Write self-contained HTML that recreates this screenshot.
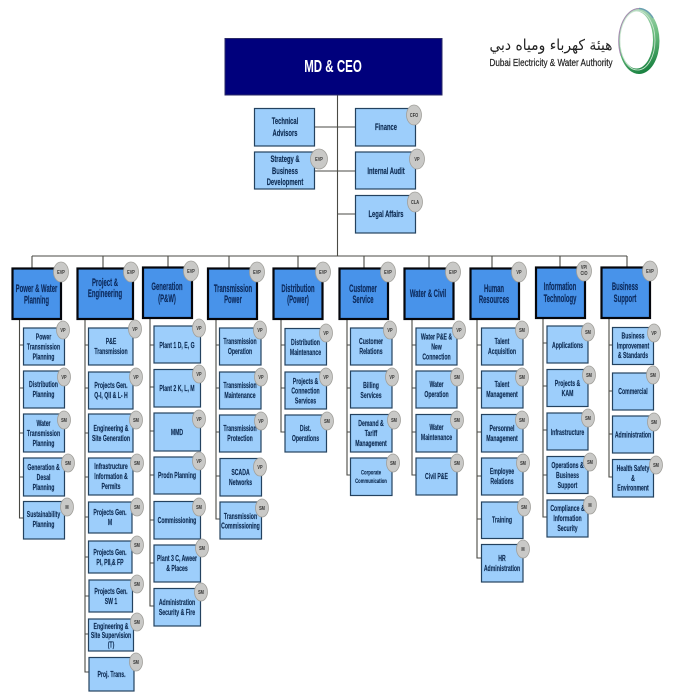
<!DOCTYPE html>
<html><head><meta charset="utf-8"><style>
html,body{margin:0;padding:0;background:#fff;width:679px;height:696px;overflow:hidden}
svg{display:block;filter:blur(.3px)}
text{font-family:"Liberation Sans",sans-serif;font-weight:bold;fill:#0d2b52;text-anchor:middle}
.s{font-size:8.6px;stroke:#0d2b52;stroke-width:.15}
.x{font-size:6.8px;stroke:#0d2b52;stroke-width:.12}
.h{font-size:10.8px;fill:#0c2a5c;stroke:#0c2a5c;stroke-width:.15}
.t{font-size:9.4px;stroke:#0d2b52;stroke-width:.15}
.b{font-size:5.2px;fill:#333}
.l{stroke:#4a4a44;stroke-width:1.1;fill:none}
.bx rect{fill:#9dcefb;stroke:#24425f;stroke-width:1.2}
.hd rect{fill:#4893ea;stroke:#04060c;stroke-width:2.2}
ellipse.e{fill:#c9c9c7;stroke:#a09f9a;stroke-width:.8}
</style></head><body>
<svg xmlns="http://www.w3.org/2000/svg" width="679" height="696" viewBox="0 0 679 696">
<defs><linearGradient id="g" x1="0.3" y1="0" x2="0.6" y2="1"><stop offset="0" stop-color="#b9dcc4"/><stop offset=".5" stop-color="#6dbd80"/><stop offset="1" stop-color="#17803f"/></linearGradient></defs>
<rect width="679" height="696" fill="#fff"/>
<!-- connectors -->
<path class="l" d="M337.5 95V256M314 127H355M314 171H355M337.5 214H355M32 256H627
M32 256V268M103 256V268M168 256V267M229 256V268M298 256V268M364 256V268M429 256V268M492 256V268M560 256V267M627 256V267
M19.500 319V518H23M19.500 345H23M19.500 388H23M19.500 433H23M19.500 477H23
M85 319V672H89M85 345H89M85 388H89M85 433H89M85 477H89M85 517H89M85 557H89M85 596H89M85 634H89
M150 318V606H154M150 345H154M150 387H154M150 431H154M150 475H154M150 520H154M150 563H154
M216 319V519H220M216 345H219M216 388H219M216 432H219M216 476H220
M281 319V432H285M281 345H285M281 388H285
M347 319V475H350M347 345H350M347 388H350M347 432H350
M412 319V475H416M412 345H416M412 388H416M412 432H416
M477 319V558H481M477 345H481M477 388H481M477 432H481M477 476H481M477 519H481
M543 318V517H547M543 343H547M543 386H547M543 430H547M543 475H547
M609 318V477H612M609 345H612M609 391H612M609 434H612"/>
<!-- top -->
<rect x="225" y="38.500" width="217" height="56.500" fill="#00007c" stroke="#2a2a66"/>
<text transform="translate(333 72) scale(.64 1)" style="font-size:18px;fill:#fff">MD &amp; CEO</text>
<g class="bx">
<rect x="254.500" y="108.500" width="60" height="37.500"/><rect x="355.500" y="108.500" width="60" height="37.500"/>
<rect x="254.500" y="152" width="60" height="37"/><rect x="355.500" y="152" width="60" height="37"/>
<rect x="355.500" y="195.500" width="60" height="37.500"/>
</g>
<text class="t" transform="translate(285 124) scale(.62 1)">Technical</text>
<text class="t" transform="translate(285 136) scale(.62 1)">Advisors</text>
<text class="t" transform="translate(386 130) scale(.62 1)">Finance</text>
<text class="t" transform="translate(285 162) scale(.62 1)">Strategy &amp;</text>
<text class="t" transform="translate(285 174) scale(.62 1)">Business</text>
<text class="t" transform="translate(285 185) scale(.62 1)">Development</text>
<text class="t" transform="translate(386 174) scale(.62 1)">Internal Audit</text>
<text class="t" transform="translate(386 217) scale(.62 1)">Legal Affairs</text>
<!-- logo -->
<text x="551" y="50" textLength="123" lengthAdjust="spacingAndGlyphs" style="font-family:'DejaVu Sans',sans-serif;font-size:15px;font-weight:normal;fill:#222">هيئة كهرباء ومياه دبي</text>
<text x="551" y="66" textLength="123" lengthAdjust="spacingAndGlyphs" style="font-size:10px;font-weight:normal;fill:#222;stroke:#222;stroke-width:.2">Dubai Electricity &amp; Water Authority</text>
<path fill="url(#g)" fill-rule="evenodd" d="M618.500 41a20.500 33 0 1 0 41 0a20.500 33 0 1 0 -41 0ZM620 40a16.500 28.500 0 1 0 33 0a16.500 28.500 0 1 0 -33 0Z"/>
<path d="M639 8.500A20.500 32.500 0 0 0 621 56" fill="none" stroke="#a58ab0" stroke-width="1"/>
<path d="M639 8.500A19 26 0 0 1 653 18" fill="none" stroke="#6a9fb0" stroke-width="1.500"/>
<ellipse cx="637.500" cy="40.500" rx="17.500" ry="29.500" fill="none" stroke="#cfe8d4" stroke-width=".8"/>
<!-- headers -->
<g class="hd">
<rect x="12.500" y="268.500" width="48.500" height="50.500"/>
<rect x="77.500" y="268.500" width="55.500" height="50.500"/>
<rect x="143" y="267.500" width="49" height="50.500"/>
<rect x="208" y="268.500" width="49" height="50.500"/>
<rect x="273.500" y="268.500" width="49" height="50.500"/>
<rect x="339.500" y="268.500" width="48.500" height="50.500"/>
<rect x="404.500" y="268.500" width="49" height="50.500"/>
<rect x="470.500" y="268.500" width="48.500" height="50.500"/>
<rect x="536" y="267.500" width="49" height="50.500"/>
<rect x="601.500" y="267.500" width="48.500" height="50.500"/>
</g>
<g class="h">
<text class="h" transform="translate(36.500 292) scale(.55 1)">Power &amp; Water</text>
<text class="h" transform="translate(36.500 303.500) scale(.55 1)">Planning</text>
<text class="h" transform="translate(105 286) scale(.55 1)">Project &amp;</text>
<text class="h" transform="translate(105 297) scale(.55 1)">Engineering</text>
<text class="h" transform="translate(167 290) scale(.55 1)">Generation</text>
<text class="h" transform="translate(167 302) scale(.55 1)">(P&amp;W)</text>
<text class="h" transform="translate(233 292) scale(.55 1)">Transmission</text>
<text class="h" transform="translate(233 303) scale(.55 1)">Power</text>
<text class="h" transform="translate(298 292) scale(.55 1)">Distribution</text>
<text class="h" transform="translate(298 303) scale(.55 1)">(Power)</text>
<text class="h" transform="translate(363 292) scale(.55 1)">Customer</text>
<text class="h" transform="translate(363 303) scale(.55 1)">Service</text>
<text class="h" transform="translate(428 297) scale(.55 1)">Water &amp; Civil</text>
<text class="h" transform="translate(494 292) scale(.55 1)">Human</text>
<text class="h" transform="translate(494 303) scale(.55 1)">Resources</text>
<text class="h" transform="translate(560 290) scale(.55 1)">Information</text>
<text class="h" transform="translate(560 302) scale(.55 1)">Technology</text>
<text class="h" transform="translate(625 290) scale(.55 1)">Business</text>
<text class="h" transform="translate(625 302) scale(.55 1)">Support</text>
</g>
<!-- sub boxes -->
<g class="bx">
<rect x="23.500" y="328" width="41" height="37"/><rect x="23.500" y="371" width="41" height="37"/><rect x="23.500" y="414" width="41" height="38"/><rect x="23.500" y="458" width="41" height="38"/><rect x="23.500" y="501.500" width="41" height="37.500"/>
<rect x="88.500" y="328" width="44.500" height="37"/><rect x="88.500" y="372" width="44.500" height="37"/><rect x="88.500" y="414" width="44.500" height="38"/><rect x="88.500" y="458" width="44.500" height="37"/><rect x="88.500" y="502" width="43.500" height="31"/><rect x="88.500" y="541" width="43.500" height="32"/><rect x="89" y="580" width="43.500" height="32"/><rect x="88.500" y="619" width="45" height="32"/><rect x="89" y="657.500" width="45" height="33.500"/>
<rect x="154" y="326" width="46.500" height="37"/><rect x="154" y="369.500" width="46.500" height="37.500"/><rect x="154" y="413" width="46.500" height="38"/><rect x="154" y="457" width="46.500" height="37"/><rect x="154" y="501.500" width="46.500" height="37.500"/><rect x="154" y="545" width="46.500" height="37"/><rect x="154" y="588.500" width="46.500" height="37.500"/>
<rect x="219.500" y="328" width="41.500" height="37"/><rect x="219.500" y="372" width="41.500" height="37"/><rect x="219.500" y="415" width="41.500" height="37"/><rect x="220" y="458.500" width="41.500" height="37.500"/><rect x="220" y="502" width="41.500" height="37"/>
<rect x="285" y="328.500" width="41.500" height="36.500"/><rect x="285" y="372" width="41.500" height="37"/><rect x="285" y="415" width="41.500" height="37"/>
<rect x="350.500" y="328" width="41.500" height="37"/><rect x="350.500" y="371" width="41.500" height="37"/><rect x="350.500" y="414.500" width="41.500" height="37.500"/><rect x="350.500" y="458" width="41.500" height="37.500"/>
<rect x="416" y="328" width="41" height="37"/><rect x="416" y="371" width="41" height="37"/><rect x="416" y="414.500" width="41" height="37.500"/><rect x="416" y="458" width="41" height="37"/>
<rect x="481.500" y="328" width="41.500" height="37"/><rect x="481.500" y="371" width="41.500" height="37"/><rect x="481.500" y="414.500" width="41.500" height="37.500"/><rect x="481.500" y="458" width="41.500" height="37"/><rect x="481.500" y="502" width="41.500" height="36.500"/><rect x="481.500" y="544.500" width="41.500" height="37.500"/>
<rect x="547" y="326" width="41" height="37"/><rect x="547" y="369.500" width="41" height="37"/><rect x="547" y="413" width="41" height="37"/><rect x="547" y="456.500" width="41" height="37"/><rect x="547" y="500" width="41" height="37"/>
<rect x="612.500" y="327.500" width="41" height="37"/><rect x="612.500" y="373" width="41" height="37"/><rect x="612.500" y="416" width="41" height="37"/><rect x="612.500" y="459.500" width="41" height="37.500"/>
</g>
<!-- sub labels -->
<text class="s" transform="translate(43.500 339.500) scale(.6 1)">Power</text><text class="s" transform="translate(43.500 349.500) scale(.6 1)">Transmission</text><text class="s" transform="translate(43.500 359.500) scale(.6 1)">Planning</text>
<text class="s" transform="translate(43.500 387) scale(.6 1)">Distribution</text><text class="s" transform="translate(43.500 397) scale(.6 1)">Planning</text>
<text class="s" transform="translate(43.500 426) scale(.6 1)">Water</text><text class="s" transform="translate(43.500 436) scale(.6 1)">Transmission</text><text class="s" transform="translate(43.500 446) scale(.6 1)">Planning</text>
<text class="s" transform="translate(43.500 470) scale(.6 1)">Generation &amp;</text><text class="s" transform="translate(43.500 480) scale(.6 1)">Desal</text><text class="s" transform="translate(43.500 490) scale(.6 1)">Planning</text>
<text class="s" transform="translate(43.500 517) scale(.6 1)">Sustainability</text><text class="s" transform="translate(43.500 527) scale(.6 1)">Planning</text>

<text class="s" transform="translate(111 344) scale(.6 1)">P&amp;E</text><text class="s" transform="translate(111 354) scale(.6 1)">Transmission</text>
<text class="s" transform="translate(111 388) scale(.6 1)">Projects Gen.</text><text class="s" transform="translate(111 398) scale(.6 1)">Q-I, QII &amp; L- H</text>
<text class="s" transform="translate(111 431) scale(.6 1)">Engineering &amp;</text><text class="s" transform="translate(111 441) scale(.6 1)">Site Generation</text>
<text class="s" transform="translate(111 469) scale(.6 1)">Infrastructure</text><text class="s" transform="translate(111 479) scale(.6 1)">Information &amp;</text><text class="s" transform="translate(111 489) scale(.6 1)">Permits</text>
<text class="s" transform="translate(110 515) scale(.6 1)">Projects Gen.</text><text class="s" transform="translate(110 525) scale(.6 1)">M</text>
<text class="s" transform="translate(110 555) scale(.6 1)">Projects Gen.</text><text class="s" transform="translate(110 565) scale(.6 1)">PI, PII,&amp; FP</text>
<text class="s" transform="translate(111 594) scale(.6 1)">Projects Gen.</text><text class="s" transform="translate(111 604) scale(.6 1)">SW 1</text>
<text class="s" transform="translate(111 629) scale(.6 1)">Engineering &amp;</text><text class="s" transform="translate(111 638) scale(.6 1)">Site Supervision</text><text class="s" transform="translate(111 647.500) scale(.6 1)">(T)</text>
<text class="s" transform="translate(111.500 677) scale(.6 1)">Proj. Trans.</text>

<text class="s" transform="translate(177 348) scale(.6 1)">Plant 1 D, E, G</text>
<text class="s" transform="translate(177 391) scale(.6 1)">Plant 2 K, L, M</text>
<text class="s" transform="translate(177 435) scale(.6 1)">MMD</text>
<text class="s" transform="translate(177 478) scale(.6 1)">Prodn Planning</text>
<text class="s" transform="translate(177 523) scale(.6 1)">Commissioning</text>
<text class="s" transform="translate(177 561) scale(.6 1)">Plant 3 C, Aweer</text><text class="s" transform="translate(177 571) scale(.6 1)">&amp; Places</text>
<text class="s" transform="translate(177 605) scale(.6 1)">Administration</text><text class="s" transform="translate(177 615) scale(.6 1)">Security &amp; Fire</text>

<text class="s" transform="translate(240 344) scale(.6 1)">Transmission</text><text class="s" transform="translate(240 354) scale(.6 1)">Operation</text>
<text class="s" transform="translate(240 388) scale(.6 1)">Transmission</text><text class="s" transform="translate(240 398) scale(.6 1)">Maintenance</text>
<text class="s" transform="translate(240 431) scale(.6 1)">Transmission</text><text class="s" transform="translate(240 441) scale(.6 1)">Protection</text>
<text class="s" transform="translate(240.500 475) scale(.6 1)">SCADA</text><text class="s" transform="translate(240.500 485) scale(.6 1)">Networks</text>
<text class="s" transform="translate(240.500 519) scale(.6 1)">Transmission</text><text class="s" transform="translate(240.500 528.500) scale(.6 1)">Commissioning</text>

<text class="s" transform="translate(305.500 345) scale(.6 1)">Distribution</text><text class="s" transform="translate(305.500 355) scale(.6 1)">Maintenance</text>
<text class="s" transform="translate(305.500 384) scale(.6 1)">Projects &amp;</text><text class="s" transform="translate(305.500 393.500) scale(.6 1)">Connection</text><text class="s" transform="translate(305.500 403.500) scale(.6 1)">Services</text>
<text class="s" transform="translate(305.500 431) scale(.6 1)">Dist.</text><text class="s" transform="translate(305.500 441) scale(.6 1)">Operations</text>

<text class="s" transform="translate(371 344) scale(.6 1)">Customer</text><text class="s" transform="translate(371 354) scale(.6 1)">Relations</text>
<text class="s" transform="translate(371 388) scale(.6 1)">Billing</text><text class="s" transform="translate(371 398) scale(.6 1)">Services</text>
<text class="s" transform="translate(371 426) scale(.6 1)">Demand &amp;</text><text class="s" transform="translate(371 436) scale(.6 1)">Tariff</text><text class="s" transform="translate(371 446) scale(.6 1)">Management</text>
<text class="x" transform="translate(371 474.500) scale(.62 1)">Corporate</text><text class="x" transform="translate(371 483) scale(.62 1)">Communication</text>

<text class="s" transform="translate(436.500 339.500) scale(.6 1)">Water P&amp;E &amp;</text><text class="s" transform="translate(436.500 349.500) scale(.6 1)">New</text><text class="s" transform="translate(436.500 359.500) scale(.6 1)">Connection</text>
<text class="s" transform="translate(436.500 387) scale(.6 1)">Water</text><text class="s" transform="translate(436.500 397) scale(.6 1)">Operation</text>
<text class="s" transform="translate(436.500 430) scale(.6 1)">Water</text><text class="s" transform="translate(436.500 440) scale(.6 1)">Maintenance</text>
<text class="s" transform="translate(436.500 479) scale(.6 1)">Civil P&amp;E</text>

<text class="s" transform="translate(502 344) scale(.6 1)">Talent</text><text class="s" transform="translate(502 354) scale(.6 1)">Acquisition</text>
<text class="s" transform="translate(502 387) scale(.6 1)">Talent</text><text class="s" transform="translate(502 397) scale(.6 1)">Management</text>
<text class="s" transform="translate(502 431) scale(.6 1)">Personnel</text><text class="s" transform="translate(502 441) scale(.6 1)">Management</text>
<text class="s" transform="translate(502 474) scale(.6 1)">Employee</text><text class="s" transform="translate(502 484) scale(.6 1)">Relations</text>
<text class="s" transform="translate(502 522.500) scale(.6 1)">Training</text>
<text class="s" transform="translate(502 561) scale(.6 1)">HR</text><text class="s" transform="translate(502 571) scale(.6 1)">Administration</text>

<text class="s" transform="translate(567.500 348) scale(.6 1)">Applications</text>
<text class="s" transform="translate(567.500 386) scale(.6 1)">Projects &amp;</text><text class="s" transform="translate(567.500 396) scale(.6 1)">KAM</text>
<text class="s" transform="translate(567.500 435) scale(.6 1)">Infrastructure</text>
<text class="s" transform="translate(567.500 468) scale(.6 1)">Operations &amp;</text><text class="s" transform="translate(567.500 478) scale(.6 1)">Business</text><text class="s" transform="translate(567.500 488) scale(.6 1)">Support</text>
<text class="s" transform="translate(567.500 511) scale(.6 1)">Compliance &amp;</text><text class="s" transform="translate(567.500 521) scale(.6 1)">Information</text><text class="s" transform="translate(567.500 531) scale(.6 1)">Security</text>

<text class="s" transform="translate(633 338.500) scale(.6 1)">Business</text><text class="s" transform="translate(633 348.500) scale(.6 1)">Improvement</text><text class="s" transform="translate(633 358) scale(.6 1)">&amp; Standards</text>
<text class="s" transform="translate(633 394) scale(.6 1)">Commercial</text>
<text class="s" transform="translate(633 437.500) scale(.6 1)">Administration</text>
<text class="s" transform="translate(633 471) scale(.6 1)">Health Safety</text><text class="s" transform="translate(633 481) scale(.6 1)">&amp;</text><text class="s" transform="translate(633 490.500) scale(.6 1)">Environment</text>

<!-- badges -->
<ellipse class="e" cx="414" cy="115" rx="7.500" ry="10"/><text class="b" transform="translate(414 117) scale(.75 1)">CFO</text>
<ellipse class="e" cx="319" cy="159" rx="8.500" ry="10"/><text class="b" transform="translate(319 161) scale(.75 1)">EVP</text>
<ellipse class="e" cx="417" cy="159" rx="7.500" ry="10"/><text class="b" transform="translate(417 161) scale(.75 1)">VP</text>
<ellipse class="e" cx="415" cy="202" rx="7.500" ry="10"/><text class="b" transform="translate(415 204) scale(.75 1)">CLA</text>

<ellipse class="e" cx="61" cy="272" rx="7.500" ry="10"/><text class="b" transform="translate(61 274) scale(.75 1)">EVP</text>
<ellipse class="e" cx="131" cy="272" rx="7.500" ry="10"/><text class="b" transform="translate(131 274) scale(.75 1)">EVP</text>
<ellipse class="e" cx="191" cy="271" rx="7.500" ry="10"/><text class="b" transform="translate(191 273) scale(.75 1)">EVP</text>
<ellipse class="e" cx="257" cy="272" rx="7.500" ry="10"/><text class="b" transform="translate(257 274) scale(.75 1)">EVP</text>
<ellipse class="e" cx="323" cy="272" rx="7.500" ry="10"/><text class="b" transform="translate(323 274) scale(.75 1)">EVP</text>
<ellipse class="e" cx="388" cy="272" rx="7.500" ry="10"/><text class="b" transform="translate(388 274) scale(.75 1)">EVP</text>
<ellipse class="e" cx="453" cy="272" rx="7.500" ry="10"/><text class="b" transform="translate(453 274) scale(.75 1)">EVP</text>
<ellipse class="e" cx="519" cy="272" rx="7.500" ry="10"/><text class="b" transform="translate(519 274) scale(.75 1)">VP</text>
<ellipse class="e" cx="584" cy="271" rx="7.500" ry="10"/><text class="b" transform="translate(584 269) scale(.75 1)">VP/</text><text class="b" transform="translate(584 275) scale(.75 1)">CIO</text>
<ellipse class="e" cx="650" cy="271" rx="7.500" ry="10"/><text class="b" transform="translate(650 273) scale(.75 1)">EVP</text>

<ellipse class="e" cx="63" cy="330" rx="6.500" ry="9"/><text class="b" transform="translate(63 332) scale(.75 1)">VP</text>
<ellipse class="e" cx="64" cy="377" rx="6.500" ry="9"/><text class="b" transform="translate(64 379) scale(.75 1)">VP</text>
<ellipse class="e" cx="64" cy="420" rx="6.500" ry="9"/><text class="b" transform="translate(64 422) scale(.75 1)">SM</text>
<ellipse class="e" cx="68" cy="463" rx="6.500" ry="9"/><text class="b" transform="translate(68 465) scale(.75 1)">SM</text>
<ellipse class="e" cx="67" cy="507" rx="6.500" ry="9"/><text class="b" transform="translate(67 509) scale(.75 1)">M</text>

<ellipse class="e" cx="135" cy="329" rx="6.500" ry="9"/><text class="b" transform="translate(135 331) scale(.75 1)">VP</text>
<ellipse class="e" cx="136" cy="377" rx="6.500" ry="9"/><text class="b" transform="translate(136 379) scale(.75 1)">VP</text>
<ellipse class="e" cx="136" cy="420" rx="6.500" ry="9"/><text class="b" transform="translate(136 422) scale(.75 1)">SM</text>
<ellipse class="e" cx="137" cy="463" rx="6.500" ry="9"/><text class="b" transform="translate(137 465) scale(.75 1)">SM</text>
<ellipse class="e" cx="137" cy="507" rx="6.500" ry="9"/><text class="b" transform="translate(137 509) scale(.75 1)">SM</text>
<ellipse class="e" cx="137" cy="545" rx="6.500" ry="9"/><text class="b" transform="translate(137 547) scale(.75 1)">SM</text>
<ellipse class="e" cx="137" cy="584" rx="6.500" ry="9"/><text class="b" transform="translate(137 586) scale(.75 1)">SM</text>
<ellipse class="e" cx="137" cy="622" rx="6.500" ry="9"/><text class="b" transform="translate(137 624) scale(.75 1)">SM</text>
<ellipse class="e" cx="136" cy="662" rx="6.500" ry="9"/><text class="b" transform="translate(136 664) scale(.75 1)">SM</text>

<ellipse class="e" cx="199" cy="328" rx="6.500" ry="9"/><text class="b" transform="translate(199 330) scale(.75 1)">VP</text>
<ellipse class="e" cx="199" cy="374" rx="6.500" ry="9"/><text class="b" transform="translate(199 376) scale(.75 1)">VP</text>
<ellipse class="e" cx="199" cy="419" rx="6.500" ry="9"/><text class="b" transform="translate(199 421) scale(.75 1)">VP</text>
<ellipse class="e" cx="199" cy="461" rx="6.500" ry="9"/><text class="b" transform="translate(199 463) scale(.75 1)">VP</text>
<ellipse class="e" cx="199" cy="507" rx="6.500" ry="9"/><text class="b" transform="translate(199 509) scale(.75 1)">SM</text>
<ellipse class="e" cx="202" cy="548" rx="6.500" ry="9"/><text class="b" transform="translate(202 550) scale(.75 1)">SM</text>
<ellipse class="e" cx="201" cy="592" rx="6.500" ry="9"/><text class="b" transform="translate(201 594) scale(.75 1)">SM</text>

<ellipse class="e" cx="260" cy="330" rx="6.500" ry="9"/><text class="b" transform="translate(260 332) scale(.75 1)">VP</text>
<ellipse class="e" cx="261" cy="377" rx="6.500" ry="9"/><text class="b" transform="translate(261 379) scale(.75 1)">VP</text>
<ellipse class="e" cx="261" cy="421" rx="6.500" ry="9"/><text class="b" transform="translate(261 423) scale(.75 1)">VP</text>
<ellipse class="e" cx="260" cy="467" rx="6.500" ry="9"/><text class="b" transform="translate(260 469) scale(.75 1)">VP</text>
<ellipse class="e" cx="262" cy="508" rx="6.500" ry="9"/><text class="b" transform="translate(262 510) scale(.75 1)">SM</text>

<ellipse class="e" cx="326" cy="333" rx="6.500" ry="9"/><text class="b" transform="translate(326 335) scale(.75 1)">VP</text>
<ellipse class="e" cx="326" cy="377" rx="6.500" ry="9"/><text class="b" transform="translate(326 379) scale(.75 1)">VP</text>
<ellipse class="e" cx="327" cy="421" rx="6.500" ry="9"/><text class="b" transform="translate(327 423) scale(.75 1)">SM</text>

<ellipse class="e" cx="390" cy="330" rx="6.500" ry="9"/><text class="b" transform="translate(390 332) scale(.75 1)">VP</text>
<ellipse class="e" cx="392" cy="377" rx="6.500" ry="9"/><text class="b" transform="translate(392 379) scale(.75 1)">VP</text>
<ellipse class="e" cx="394" cy="420" rx="6.500" ry="9"/><text class="b" transform="translate(394 422) scale(.75 1)">SM</text>
<ellipse class="e" cx="393" cy="463" rx="6.500" ry="9"/><text class="b" transform="translate(393 465) scale(.75 1)">SM</text>

<ellipse class="e" cx="459" cy="330" rx="6.500" ry="9"/><text class="b" transform="translate(459 332) scale(.75 1)">VP</text>
<ellipse class="e" cx="457" cy="377" rx="6.500" ry="9"/><text class="b" transform="translate(457 379) scale(.75 1)">SM</text>
<ellipse class="e" cx="457" cy="420" rx="6.500" ry="9"/><text class="b" transform="translate(457 422) scale(.75 1)">SM</text>
<ellipse class="e" cx="457" cy="463" rx="6.500" ry="9"/><text class="b" transform="translate(457 465) scale(.75 1)">SM</text>

<ellipse class="e" cx="522" cy="330" rx="6.500" ry="9"/><text class="b" transform="translate(522 332) scale(.75 1)">SM</text>
<ellipse class="e" cx="522" cy="377" rx="6.500" ry="9"/><text class="b" transform="translate(522 379) scale(.75 1)">SM</text>
<ellipse class="e" cx="522" cy="420" rx="6.500" ry="9"/><text class="b" transform="translate(522 422) scale(.75 1)">SM</text>
<ellipse class="e" cx="523" cy="463" rx="6.500" ry="9"/><text class="b" transform="translate(523 465) scale(.75 1)">SM</text>
<ellipse class="e" cx="524" cy="507" rx="6.500" ry="9"/><text class="b" transform="translate(524 509) scale(.75 1)">SM</text>
<ellipse class="e" cx="523" cy="549" rx="6.500" ry="9"/><text class="b" transform="translate(523 551) scale(.75 1)">M</text>

<ellipse class="e" cx="588" cy="332" rx="6.500" ry="9"/><text class="b" transform="translate(588 334) scale(.75 1)">SM</text>
<ellipse class="e" cx="589" cy="375" rx="6.500" ry="9"/><text class="b" transform="translate(589 377) scale(.75 1)">SM</text>
<ellipse class="e" cx="588" cy="418" rx="6.500" ry="9"/><text class="b" transform="translate(588 420) scale(.75 1)">SM</text>
<ellipse class="e" cx="590" cy="462" rx="6.500" ry="9"/><text class="b" transform="translate(590 464) scale(.75 1)">SM</text>
<ellipse class="e" cx="590" cy="505" rx="6.500" ry="9"/><text class="b" transform="translate(590 507) scale(.75 1)">M</text>

<ellipse class="e" cx="654" cy="333" rx="6.500" ry="9"/><text class="b" transform="translate(654 335) scale(.75 1)">VP</text>
<ellipse class="e" cx="653" cy="375" rx="6.500" ry="9"/><text class="b" transform="translate(653 377) scale(.75 1)">SM</text>
<ellipse class="e" cx="654" cy="422" rx="6.500" ry="9"/><text class="b" transform="translate(654 424) scale(.75 1)">SM</text>
<ellipse class="e" cx="656" cy="465" rx="6.500" ry="9"/><text class="b" transform="translate(656 467) scale(.75 1)">SM</text>
</svg>
</body></html>
